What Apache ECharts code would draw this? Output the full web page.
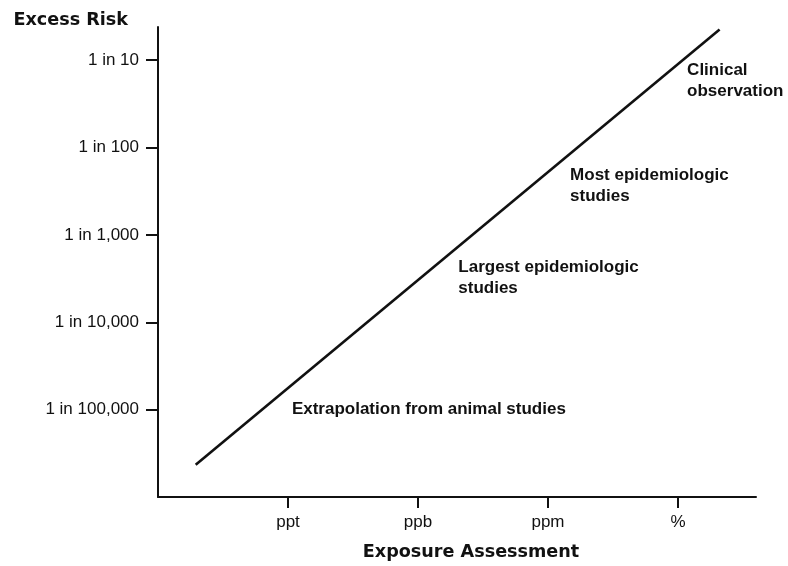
<!DOCTYPE html>
<html>
<head>
<meta charset="utf-8">
<script src="https://cdn.jsdelivr.net/npm/echarts@6/dist/echarts.min.js"></script>
<style>
  html, body { margin: 0; padding: 0; background: #fff; overflow: hidden; }
  #chart { width: 788px; height: 566px; }
</style>
</head>
<body>
<div id="chart"></div>
<script>
// Exposure scale: one unit per concentration step (ppt, ppb, ppm, %)
const exposureTicks = [1, 2, 3, 4];
const exposureLabels = ['ppt', 'ppb', 'ppm', '%'];

// Risk scale: log10 of excess risk (1 in 10 = -1 ... 1 in 100,000 = -5)
const riskTicks = [-1, -2, -3, -4, -5];
const riskLabels = ['1 in 10', '1 in 100', '1 in 1,000', '1 in 10,000', '1 in 100,000'];

// Dose-response line endpoints (exposure step, log10 risk)
const lineExposure = [0.29, 4.32];
const lineRisk = [-5.63, -0.65];

// Study-type annotations placed in data space
const noteText = ['Clinical\nobservation', 'Most epidemiologic\nstudies', 'Largest epidemiologic\nstudies', 'Extrapolation from animal studies'];
const noteExposure = [4.07, 3.17, 2.31, 1.03];
const noteRisk = [-1.24, -2.44, -3.49, -5.0];

const ink = '#111111';
const labelFont = '"Liberation Sans", Arial, Helvetica, sans-serif';
const titleFont = '"DejaVu Sans", sans-serif';

const chart = echarts.init(document.getElementById('chart'), null, { renderer: 'canvas' });

chart.setOption({
  backgroundColor: '#ffffff',
  animation: false,
  grid: { left: 158, right: 32, top: 27, bottom: 65, containLabel: false },
  xAxis: {
    type: 'value',
    min: 0,
    max: 4.6,
    name: 'Exposure Assessment',
    nameLocation: 'middle',
    nameGap: 46,
    nameTextStyle: { fontFamily: titleFont, fontWeight: 'bold', fontSize: 17.6, color: ink, padding: [0, 0, 0, 28] },
    axisLine: { show: true, onZero: false, lineStyle: { color: ink, width: 2 } },
    axisTick: { show: true, length: 11, lineStyle: { color: ink, width: 2 }, customValues: exposureTicks },
    axisLabel: {
      fontFamily: labelFont, fontSize: 17, color: ink, margin: 17,
      customValues: exposureTicks,
      formatter: v => exposureLabels[exposureTicks.indexOf(v)] || ''
    },
    splitLine: { show: false }
  },
  yAxis: {
    type: 'value',
    min: -6,
    max: -0.62,
    name: 'Excess Risk',
    nameLocation: 'end',
    nameGap: 7,
    nameTextStyle: { fontFamily: titleFont, fontWeight: 'bold', fontSize: 17.6, color: ink, align: 'right', verticalAlign: 'middle', padding: [0, 30, 0, 0] },
    axisLine: { show: true, onZero: false, lineStyle: { color: ink, width: 2 } },
    axisTick: { show: true, length: 12, lineStyle: { color: ink, width: 2 }, customValues: riskTicks },
    axisLabel: {
      fontFamily: labelFont, fontSize: 17, color: ink, margin: 19,
      customValues: riskTicks,
      formatter: v => riskLabels[riskTicks.indexOf(v)] || ''
    },
    splitLine: { show: false }
  },
  series: [
    {
      type: 'line',
      data: lineExposure.map((x, i) => [x, lineRisk[i]]),
      symbol: 'none',
      lineStyle: { color: ink, width: 2.6 },
      silent: true
    },
    {
      type: 'scatter',
      data: noteText.map((t, i) => ({ value: [noteExposure[i], noteRisk[i]], name: t })),
      symbolSize: 0,
      silent: true,
      itemStyle: { opacity: 1 },
      label: {
        show: true,
        position: 'right',
        distance: 0,
        align: 'left',
        verticalAlign: 'middle',
        formatter: p => p.name,
        fontFamily: labelFont,
        fontWeight: 'bold',
        fontSize: 17,
        lineHeight: 21,
        color: ink,
        opacity: 1
      }
    }
  ]
});
</script>
</body>
</html>
